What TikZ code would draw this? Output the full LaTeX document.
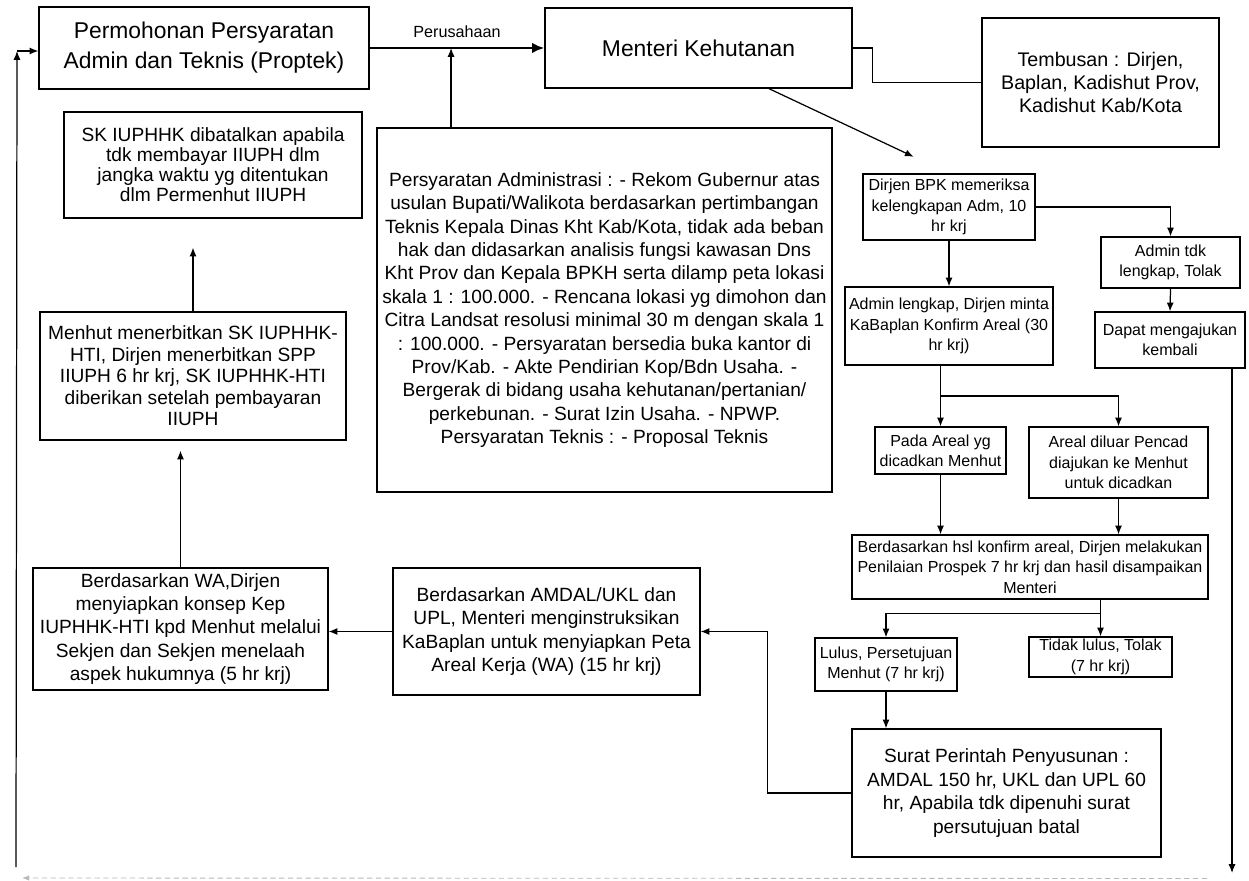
\documentclass[tikz,border=0pt]{standalone}
\usepackage{fontspec}
\setmainfont{Liberation Sans}
\usetikzlibrary{arrows.meta,calc}
\tikzset{
    box/.style={draw, line width=0.7pt, align=center, inner sep=1pt},
    bigtxt/.style={font=\fontsize{10.9}{13.3}\selectfont},
    smalltxt/.style={font=\fontsize{9.1}{11.6}\selectfont},
    arr/.style={-{Latex[length=5pt,width=4pt]}, line width=0.7pt},
    faint/.style={draw=gray!55, line width=0.5pt, densely dashed}
}

\begin{document}
\begin{tikzpicture}
    \useasboundingbox (0,0) rectangle (24.98cm, 17.6cm);

    \node (perm) [box, minimum width=6.6cm, minimum height=1.64cm, font=\fontsize{13}{17}\selectfont] at (4.08cm, 16.64cm) {Permohonan Persyaratan\\Admin dan Teknis (Proptek)};
    \node (menteri) [box, minimum width=6.14cm, minimum height=1.6cm, font=\fontsize{13}{17}\selectfont] at (13.97cm, 16.64cm) {Menteri Kehutanan};
    \node (tembusan) [box, minimum width=4.74cm, minimum height=2.58cm, font=\fontsize{11.2}{13.2}\selectfont] at (22.01cm, 15.95cm) {Tembusan : Dirjen,\\Baplan, Kadishut Prov,\\Kadishut Kab/Kota};
    \node (syarat) [box, bigtxt, minimum width=9.1cm, minimum height=7.28cm] at (12.09cm, 11.40cm) {Persyaratan Administrasi : - Rekom Gubernur atas\\usulan Bupati/Walikota berdasarkan pertimbangan\\Teknis Kepala Dinas Kht Kab/Kota, tidak ada beban\\hak dan didasarkan analisis fungsi kawasan Dns\\Kht Prov dan Kepala BPKH serta dilamp peta lokasi\\skala 1 : 100.000. - Rencana lokasi yg dimohon dan\\Citra Landsat resolusi minimal 30 m dengan skala 1\\: 100.000. - Persyaratan bersedia buka kantor di\\Prov/Kab. - Akte Pendirian Kop/Bdn Usaha. -\\Bergerak di bidang usaha kehutanan/pertanian/\\perkebunan. - Surat Izin Usaha. - NPWP.\\Persyaratan Teknis : - Proposal Teknis};

    \node (batal) [box, font=\fontsize{10.9}{11.4}\selectfont, minimum width=5.96cm, minimum height=2.12cm] at (4.26cm, 14.30cm) {SK IUPHHK dibatalkan apabila\\tdk membayar IIUPH dlm\\jangka waktu yg ditentukan\\dlm Permenhut IIUPH};
    \node (terbit) [box, font=\fontsize{10.9}{12.2}\selectfont, minimum width=6.12cm, minimum height=2.56cm] at (3.86cm, 10.08cm) {Menhut menerbitkan SK IUPHHK-\\HTI, Dirjen menerbitkan SPP\\IIUPH 6 hr krj, SK IUPHHK-HTI\\diberikan setelah pembayaran\\IIUPH};
    \node (konsep) [box, bigtxt, minimum width=5.9cm, minimum height=2.44cm] at (3.61cm, 5.02cm) {Berdasarkan WA,Dirjen\\menyiapkan konsep Kep\\IUPHHK-HTI kpd Menhut melalui\\Sekjen dan Sekjen menelaah\\aspek hukumnya (5 hr krj)};
    \node (peta) [box, bigtxt, minimum width=6.14cm, minimum height=2.54cm] at (10.93cm, 4.97cm) {Berdasarkan AMDAL/UKL dan\\UPL, Menteri menginstruksikan\\KaBaplan untuk menyiapkan Peta\\Areal Kerja (WA) (15 hr krj)};

    \node (periksa) [box, smalltxt, minimum width=3.44cm, minimum height=1.32cm] at (18.98cm, 13.46cm) {Dirjen BPK memeriksa\\kelengkapan Adm, 10\\hr krj};
    \node (tolaka) [box, smalltxt, minimum width=2.78cm, minimum height=1.02cm] at (23.41cm, 12.35cm) {Admin tdk\\lengkap, Tolak};
    \node (ulang) [box, smalltxt, minimum width=3.0cm, minimum height=1.12cm] at (23.40cm, 10.80cm) {Dapat mengajukan\\kembali};
    \node (lengkap) [box, smalltxt, minimum width=4.16cm, minimum height=1.56cm] at (18.98cm, 11.08cm) {Admin lengkap, Dirjen minta\\KaBaplan Konfirm Areal (30\\hr krj)};
    \node (cadang) [box, smalltxt, minimum width=2.62cm, minimum height=0.94cm] at (18.81cm, 8.59cm) {Pada Areal yg\\dicadkan Menhut};
    \node (luar) [box, smalltxt, minimum width=3.58cm, minimum height=1.42cm] at (22.37cm, 8.35cm) {Areal diluar Pencad\\diajukan ke Menhut\\untuk dicadkan};
    \node (nilai) [box, smalltxt, minimum width=7.12cm, minimum height=1.28cm] at (20.60cm, 6.26cm) {Berdasarkan hsl konfirm areal, Dirjen melakukan\\Penilaian Prospek 7 hr krj dan hasil disampaikan\\Menteri};
    \node (lulus) [box, smalltxt, minimum width=2.84cm, minimum height=1.06cm] at (17.72cm, 4.31cm) {Lulus, Persetujuan\\Menhut (7 hr krj)};
    \node (tolakb) [box, smalltxt, minimum width=2.86cm, minimum height=0.8cm] at (22.01cm, 4.46cm) {Tidak lulus, Tolak\\(7 hr krj)};
    \node (surat) [box, bigtxt, minimum width=6.18cm, minimum height=2.56cm] at (20.13cm, 1.74cm) {Surat Perintah Penyusunan :\\AMDAL 150 hr, UKL dan UPL 60\\hr, Apabila tdk dipenuhi surat\\persutujuan batal};

    \coordinate (join) at ($(perm.east)!0.466!(menteri.west)$);
    \coordinate (splita) at ($(lengkap.south)!0.5!(cadang.north)$);
    \coordinate (splitb) at ($(nilai.south)!0.38!(tolakb.north)$);
    \coordinate (retR) at (24.64cm, 0.14cm);
    \coordinate (retB) at (24.14cm, 0.03cm);
    \coordinate (retL) at (0.44cm, 0.04cm);
    \coordinate (retBL) at (0.32cm, 0.26cm);
    \coordinate (retT) at (0.34cm, 16.58cm);

    \draw [-{Latex[length=7pt,width=6pt]}, line width=1.4pt] (perm.east) -- node [above=2pt, font=\fontsize{9.2}{11}\selectfont] {Perusahaan} (menteri.west);
    \draw [arr] (join |- syarat.north) -- (join);
    \draw [line width=0.7pt] (menteri.east) -- ++(0.4cm, 0) |- (tembusan.west);
    \draw [arr, shorten >=0.78cm] (menteri.-30) -- (periksa.north);

    \draw [arr] (periksa.east) -| (tolaka.north);
    \draw [arr] (tolaka.south) -- (ulang.north);
    \draw [arr] (periksa.south) -- (lengkap.north);
    \draw [arr] (lengkap.south -| cadang.north) -- (cadang.north);
    \draw [arr] (splita -| cadang.north) -| (luar.north);
    \draw [arr] (cadang.south) -- (cadang.south |- nilai.north);
    \draw [arr] (luar.south) -- (luar.south |- nilai.north);
    \draw [arr] (tolakb.north |- nilai.south) -- (tolakb.north);
    \draw [arr] (splitb -| tolakb.north) -| (lulus.north);
    \draw [arr] (lulus.south) -- (lulus.south |- surat.north);
    \draw [arr] (surat.west) -- ++(-1.68cm, 0) |- (peta.east);
    \draw [arr] (peta.west) -- (peta.west -| konsep.east);
    \draw [arr, shorten >=0.2cm] (konsep.north) -- (konsep.north |- terbit.south);
    \draw [arr, shorten >=0.58cm] (terbit.north) -- (terbit.north |- batal.south);

    \draw [arr] (ulang.south -| retR) -- (retR);
    \draw [faint, -{Latex[length=4pt,width=3pt]}] (retB) -- (retL);
    \draw [arr] (retBL) -- (retT);
    \draw [arr] (retT) -- (retT -| perm.west);
\end{tikzpicture}
\end{document}
